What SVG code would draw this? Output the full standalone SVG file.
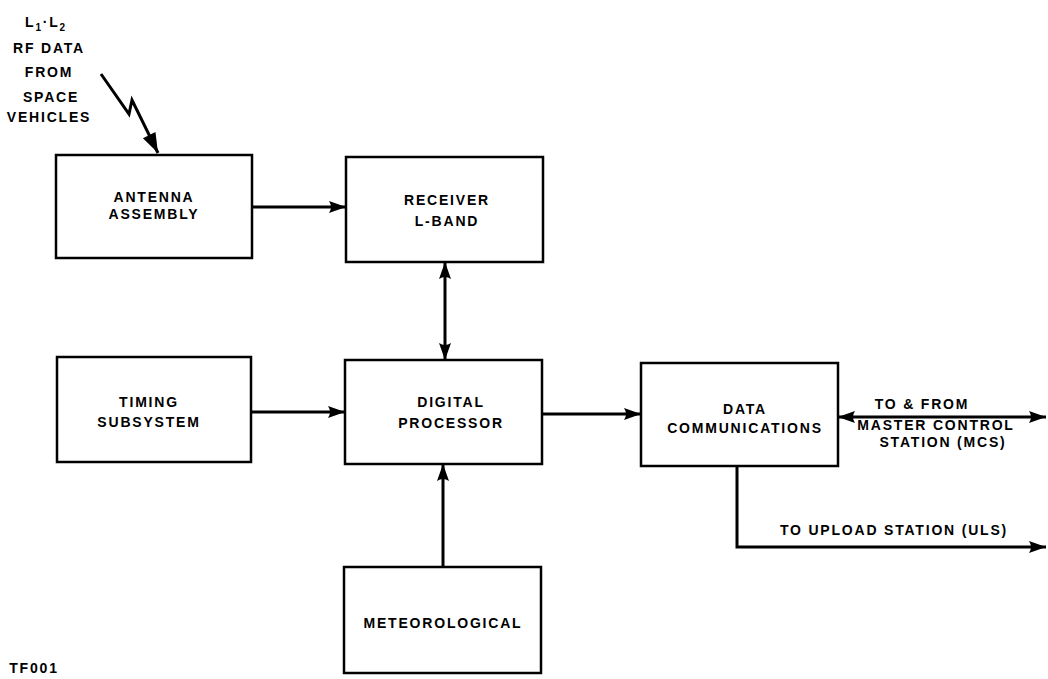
<svg xmlns="http://www.w3.org/2000/svg" width="1048" height="679" viewBox="0 0 1048 679">
<style>
.box{fill:#fff;stroke:#000;stroke-width:2.5}
.t{font-family:"Liberation Sans",Arial,sans-serif;font-weight:bold;font-size:14px;letter-spacing:1.8px;text-anchor:middle;fill:#000}
.ln{fill:none;stroke:#000;stroke-width:3}
</style>
<defs>
<marker id="ah" viewBox="-1 -7 19 14" refX="17" refY="0" markerWidth="19" markerHeight="14" markerUnits="userSpaceOnUse" orient="auto-start-reverse">
<path d="M0,-6 L17,0 L0,6 Q4,0 0,-6 Z" fill="#000"/>
</marker>
<marker id="ahb" viewBox="-1 -9 22 18" refX="20" refY="0" markerWidth="22" markerHeight="18" markerUnits="userSpaceOnUse" orient="auto">
<path d="M0,-7 L20,0 L0,7 Z" fill="#000"/>
</marker>
</defs>
<rect width="1048" height="679" fill="#fff"/>
<g id="source-label">
<text class="t" x="46" y="27">L<tspan font-size="10" dy="4">1</tspan><tspan dy="-4">·L</tspan><tspan font-size="10" dy="4">2</tspan></text>
<text class="t" x="49" y="53">RF DATA</text>
<text class="t" x="49" y="77">FROM</text>
<text class="t" x="51" y="102">SPACE</text>
<text class="t" x="49" y="122">VEHICLES</text>
</g>
<g id="antenna">
<rect class="box" x="56" y="155" width="196" height="103"/>
<text class="t" x="154" y="202">ANTENNA</text>
<text class="t" x="154" y="219">ASSEMBLY</text>
</g>
<g id="receiver">
<rect class="box" x="346" y="157" width="197" height="105"/>
<text class="t" x="447" y="205">RECEIVER</text>
<text class="t" x="447" y="226">L-BAND</text>
</g>
<g id="timing">
<rect class="box" x="57" y="357" width="194" height="105"/>
<text class="t" x="149" y="407">TIMING</text>
<text class="t" x="149" y="427">SUBSYSTEM</text>
</g>
<g id="digital">
<rect class="box" x="345" y="360" width="197" height="104"/>
<text class="t" x="451" y="407">DIGITAL</text>
<text class="t" x="451" y="428">PROCESSOR</text>
</g>
<g id="datacomm">
<rect class="box" x="641" y="363" width="197" height="103"/>
<text class="t" x="745" y="414">DATA</text>
<text class="t" x="745" y="433">COMMUNICATIONS</text>
</g>
<g id="meteorological">
<rect class="box" x="344" y="567" width="197" height="106"/>
<text class="t" x="443" y="628">METEOROLOGICAL</text>
</g>
<g id="connectors">
<polyline class="ln" stroke-width="5" stroke-linejoin="miter" points="101,74 129,114 132,100 158,153" marker-end="url(#ahb)"/>
<line class="ln" x1="252" y1="207" x2="346" y2="207" marker-end="url(#ah)"/>
<line class="ln" x1="445" y1="262" x2="445" y2="360" marker-start="url(#ah)" marker-end="url(#ah)"/>
<line class="ln" x1="251" y1="412" x2="345" y2="412" marker-end="url(#ah)"/>
<line class="ln" x1="542" y1="414" x2="641" y2="414" marker-end="url(#ah)"/>
<line class="ln" x1="443" y1="567" x2="443" y2="464" marker-end="url(#ah)"/>
<line class="ln" x1="838" y1="417" x2="1046" y2="417" marker-start="url(#ah)" marker-end="url(#ah)"/>
<path class="ln" d="M737,466 V547 H1046" marker-end="url(#ah)"/>
</g>
<g id="labels">
<text class="t" x="922" y="409">TO &amp; FROM</text>
<text class="t" x="936" y="430">MASTER CONTROL</text>
<text class="t" x="943" y="447">STATION (MCS)</text>
<text class="t" x="894" y="535">TO UPLOAD STATION (ULS)</text>
<text class="t" x="34" y="673" font-size="9" letter-spacing="0.5">TF001</text>
</g>
</svg>
